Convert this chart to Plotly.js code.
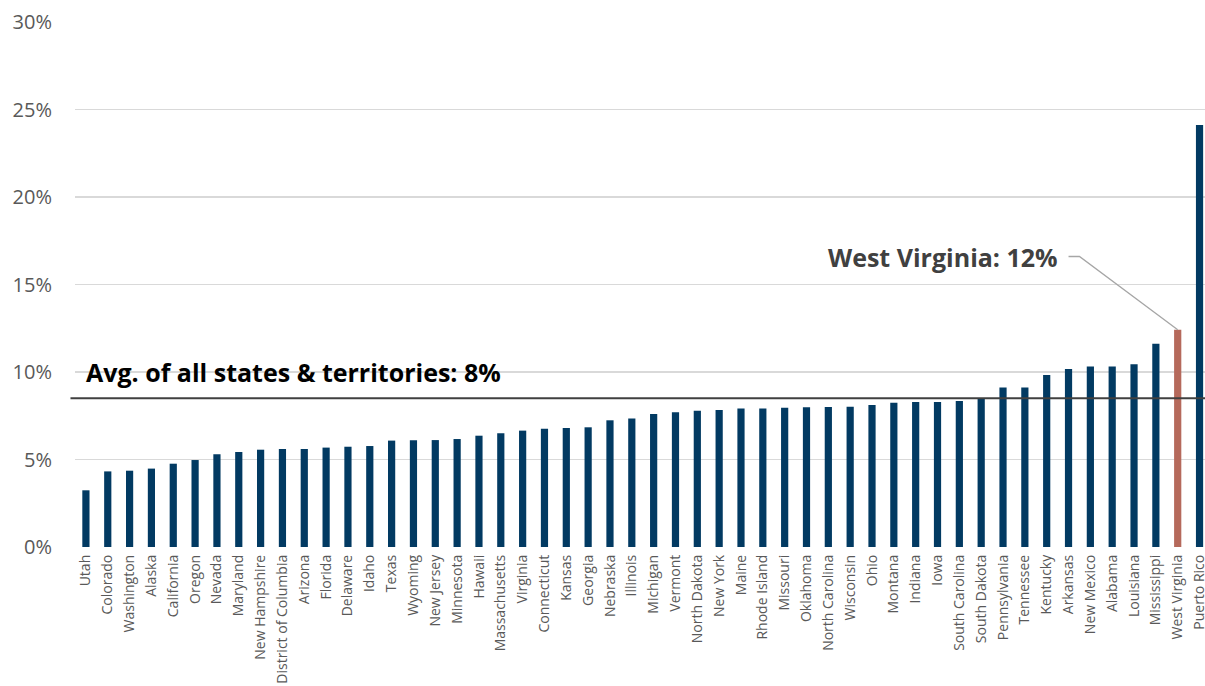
<!DOCTYPE html>
<html>
<head>
<meta charset="utf-8">
<script src="https://cdn.plot.ly/plotly-3.0.1.min.js"></script>
<style>html,body{margin:0;padding:0;background:#fff;}#chart{width:1205px;height:686px;}</style>
</head>
<body>
<div id="chart"></div>
<script>
const states = ["Utah","Colorado","Washington","Alaska","California","Oregon","Nevada","Maryland","New Hampshire","District of Columbia","Arizona","Florida","Delaware","Idaho","Texas","Wyoming","New Jersey","Minnesota","Hawaii","Massachusetts","Virginia","Connecticut","Kansas","Georgia","Nebraska","Illinois","Michigan","Vermont","North Dakota","New York","Maine","Rhode Island","Missouri","Oklahoma","North Carolina","Wisconsin","Ohio","Montana","Indiana","Iowa","South Carolina","South Dakota","Pennsylvania","Tennessee","Kentucky","Arkansas","New Mexico","Alabama","Louisiana","Mississippi","West Virginia","Puerto Rico"];
const values = [3.24,4.32,4.36,4.48,4.76,4.97,5.30,5.43,5.56,5.60,5.60,5.68,5.73,5.77,6.08,6.10,6.11,6.17,6.36,6.50,6.65,6.76,6.80,6.84,7.24,7.35,7.60,7.70,7.79,7.83,7.92,7.92,7.96,7.98,8.00,8.02,8.11,8.25,8.29,8.29,8.34,8.49,9.12,9.12,9.83,10.17,10.31,10.31,10.44,11.62,12.42,24.11];
const highlight = "West Virginia";
const average = 8.5;
const avgLabel = "Avg. of all states & territories: 8%";
const wvLabel = "West Virginia: 12%";
const yTicks = [0,5,10,15,20,25,30];
const yTickText = ["0%","5%","10%","15%","20%","25%","30%"];

const navy = "#023a62";
const rust = "#b5695b";
const colors = states.map(s => s === highlight ? rust : navy);
const hiIdx = states.indexOf(highlight);
const hiVal = values[hiIdx];

const trace = {
  type: "bar",
  x: states,
  y: values,
  width: 0.33,
  marker: {color: colors, line: {width: 0}},
  hoverinfo: "x+y"
};

const layout = {
  width: 1205, height: 686,
  margin: {l: 75, r: 0, t: 22, b: 139, pad: 0},
  paper_bgcolor: "#fff", plot_bgcolor: "#fff",
  showlegend: false,
  xaxis: {
    type: "category",
    range: [-0.5, 51.25],
    tickangle: -90,
    tickfont: {family: "Open Sans", size: 14, color: "#595959"},
    showgrid: false, zeroline: false, showline: false,
    ticks: "", ticklabelstandoff: 4
  },
  yaxis: {
    range: [0, 30],
    tickvals: yTicks, ticktext: yTickText,
    tickfont: {family: "Open Sans", size: 20, color: "#595959"},
    showgrid: true, gridcolor: "#d9d9d9", gridwidth: 1.5,
    zeroline: false, showline: false, ticks: "",
    ticklabelstandoff: 22
  },
  shapes: [
    {type: "line", xref: "paper", yref: "y", x0: -0.004, x1: 1, y0: average, y1: average,
     line: {color: "#404040", width: 2.2}, layer: "above"},
    {type: "path", xref: "x", yref: "y",
     path: "M 45.0,16.6 L 45.5,16.6 L " + hiIdx + "," + hiVal,
     line: {color: "#a6a6a6", width: 1.3}, layer: "above"}
  ],
  annotations: [
    {xref: "x", yref: "y", x: -0.1, y: 10.0, xanchor: "left", yanchor: "middle",
     text: "<b>" + avgLabel + "</b>", showarrow: false,
     font: {family: "Open Sans", size: 25, color: "#000"}},
    {xref: "x", yref: "y", x: 44.6, y: 16.6, xanchor: "right", yanchor: "middle",
     text: "<b>" + wvLabel + "</b>", showarrow: false,
     font: {family: "Open Sans", size: 25, color: "#404040"}}
  ]
};

Plotly.newPlot("chart", [trace], layout, {displayModeBar: false, staticPlot: true});
</script>
</body>
</html>
